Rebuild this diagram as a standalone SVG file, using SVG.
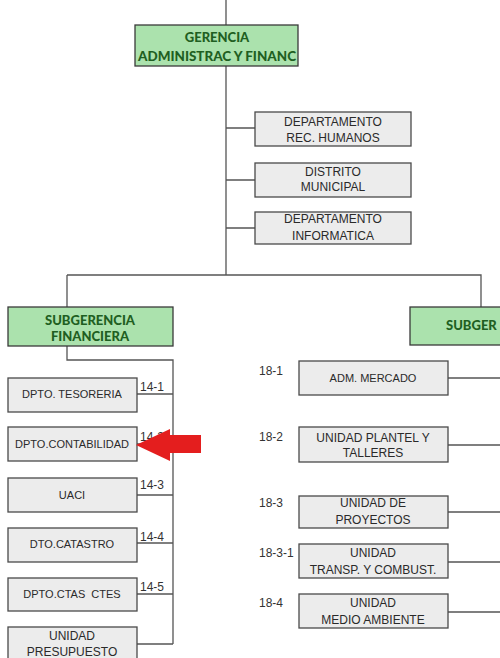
<svg xmlns="http://www.w3.org/2000/svg" width="500" height="658" viewBox="0 0 500 658">
<style>
.g{fill:#abe2ad;stroke:#3a3a3a;stroke-width:1.3}
.b{fill:#ececec;stroke:#4a4a4a;stroke-width:1.3}
.gt{font-family:Lato,"Liberation Sans",sans-serif;font-weight:900;font-size:13px;fill:#1f5f22;text-anchor:middle}
.t{font-family:"Liberation Sans",Arial,sans-serif;font-size:11px;fill:#2a2a2a;text-anchor:middle}
.t12{font-size:12px}
.l{font-family:"Liberation Sans",Arial,sans-serif;font-size:12px;fill:#333}
.c{stroke:#555;stroke-width:1.3;fill:none}
</style>
<rect width="500" height="658" fill="#fff"/>
<g id="connectors" class="c">
<path d="M226 0V25M226 66V275M226 128H255M226 180H255M226 228H255"/>
<path d="M67 275H481V307M67 275V307"/>
<path d="M67 346V360H173V644M137 394H173M137 444H173M137 495H173M137 543H173M137 594H173M137 644H173"/>
<path d="M448 378H500M448 445H500M448 512H500M448 562H500M448 612H500"/>
</g>
<g id="gerencia"><rect class="g" x="135" y="25" width="163" height="41"/><text class="gt" x="217" y="42">GERENCIA</text><text class="gt" x="217" y="61" textLength="158" lengthAdjust="spacingAndGlyphs">ADMINISTRAC Y FINANC</text></g>
<g id="rrhh"><rect class="b" x="255" y="112" width="156" height="34"/><text class="t t12" x="333" y="126">DEPARTAMENTO</text><text class="t t12" x="333" y="142">REC. HUMANOS</text></g>
<g id="distrito"><rect class="b" x="255" y="163" width="156" height="34"/><text class="t t12" x="333" y="176">DISTRITO</text><text class="t t12" x="333" y="191">MUNICIPAL</text></g>
<g id="informatica"><rect class="b" x="255" y="212" width="156" height="32"/><text class="t t12" x="333" y="223">DEPARTAMENTO</text><text class="t t12" x="333" y="240">INFORMATICA</text></g>
<g id="subfin"><rect class="g" x="8" y="307" width="165" height="39"/><text class="gt" x="90" y="325">SUBGERENCIA</text><text class="gt" x="90" y="341">FINANCIERA</text></g>
<g id="subger2"><rect class="g" x="410" y="307" width="110" height="38"/><text class="gt" x="446" y="330" style="text-anchor:start">SUBGER</text></g>
<g id="tesoreria"><rect class="b" x="8" y="378" width="129" height="34"/><text class="t" x="72" y="398">DPTO. TESORERIA</text><text class="l" x="140" y="391">14-1</text></g>
<g id="contabilidad"><rect class="b" x="8" y="427" width="129" height="34"/><text class="t" x="72" y="448">DPTO.CONTABILIDAD</text><text class="l" x="140" y="441">14-2</text></g>
<g id="uaci"><rect class="b" x="8" y="478" width="129" height="34"/><text class="t" x="72" y="499">UACI</text><text class="l" x="140" y="489">14-3</text></g>
<g id="catastro"><rect class="b" x="8" y="528" width="129" height="34"/><text class="t" x="72" y="548">DTO.CATASTRO</text><text class="l" x="140" y="541">14-4</text></g>
<g id="ctas"><rect class="b" x="8" y="578" width="129" height="33"/><text class="t" x="72" y="598">DPTO.CTAS&#160; CTES</text><text class="l" x="140" y="591">14-5</text></g>
<g id="presupuesto"><rect class="b" x="8" y="627" width="129" height="45"/><text class="t t12" x="72" y="640">UNIDAD</text><text class="t t12" x="72" y="656">PRESUPUESTO</text></g>
<g id="mercado"><rect class="b" x="299" y="361" width="149" height="34"/><text class="t" x="373" y="382">ADM. MERCADO</text><text class="l" x="259" y="375">18-1</text></g>
<g id="plantel"><rect class="b" x="299" y="427" width="149" height="35"/><text class="t t12" x="373" y="442">UNIDAD PLANTEL Y</text><text class="t t12" x="373" y="457">TALLERES</text><text class="l" x="259" y="441">18-2</text></g>
<g id="proyectos"><rect class="b" x="299" y="496" width="149" height="32"/><text class="t t12" x="373" y="507">UNIDAD DE</text><text class="t t12" x="373" y="524">PROYECTOS</text><text class="l" x="259" y="507">18-3</text></g>
<g id="transporte"><rect class="b" x="299" y="544" width="149" height="34"/><text class="t t12" x="373" y="557">UNIDAD</text><text class="t t12" x="373" y="574">TRANSP. Y COMBUST.</text><text class="l" x="259" y="557">18-3-1</text></g>
<g id="ambiente"><rect class="b" x="299" y="594" width="149" height="34"/><text class="t t12" x="373" y="607">UNIDAD</text><text class="t t12" x="373" y="624">MEDIO AMBIENTE</text><text class="l" x="259" y="607">18-4</text></g>
<g id="arrow"><polygon points="136,445 170,429 170,435 201,435 201,453 170,453 170,461" fill="#e41e1e"/></g>
</svg>
